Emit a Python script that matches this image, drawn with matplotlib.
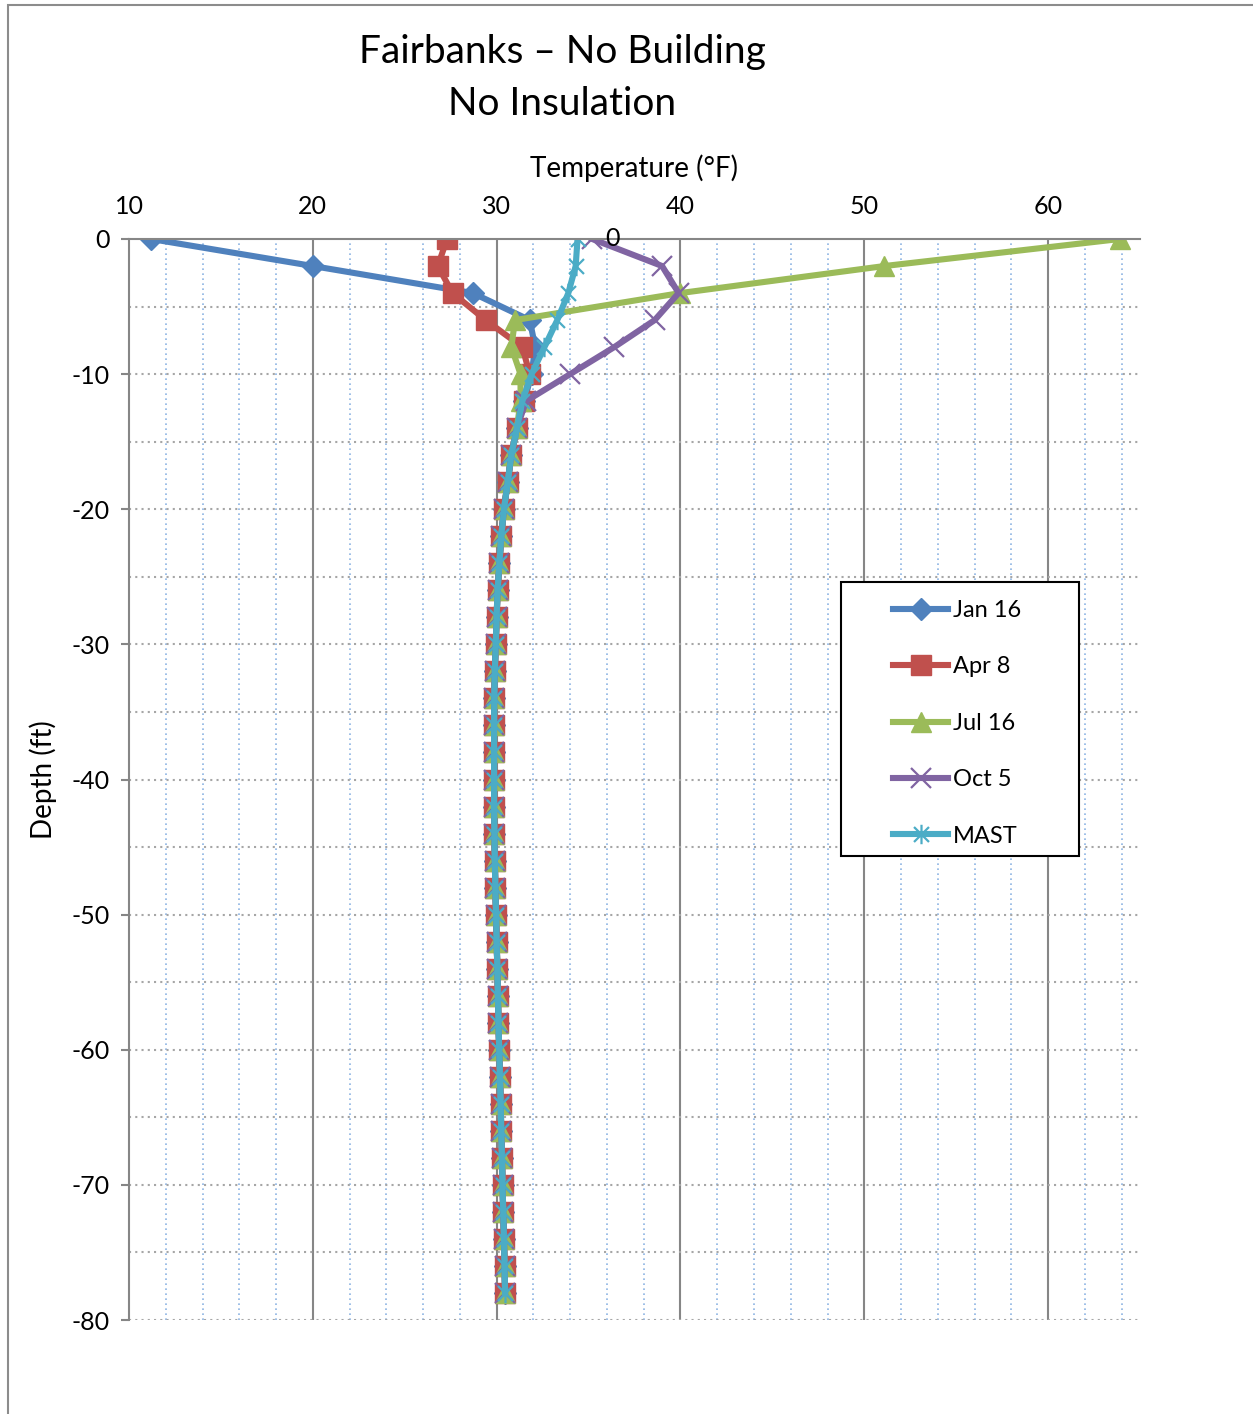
import numpy as np
import matplotlib
matplotlib.use("Agg")
import matplotlib.pyplot as plt
from matplotlib.path import Path
from matplotlib.patches import Rectangle

plt.rcParams['font.family'] = ['Lato', 'DejaVu Sans']
plt.rcParams['axes.unicode_minus'] = False

# depth points (ft), every 2 ft from 0 down to -78
depth = list(range(0, -80, -2))

# shallow part (0 to -12 ft) read per series
jan_top = [11.2, 20.0, 28.7, 31.8, 32.1, 31.9, 31.5]
apr_top = [27.3, 26.8, 27.6, 29.4, 31.4, 31.8, 31.5]
jul_top = [63.9, 51.1, 40.0, 31.0, 30.8, 31.3, 31.3]
oct_top = [35.2, 39.0, 39.9, 38.6, 36.4, 34.0, 31.6]
mast_top = [34.4, 34.3, 33.9, 33.3, 32.6, 31.9, 31.4]

# deep part (-14 to -78 ft), all curves overlap here
deep = [31.1, 30.8, 30.6, 30.4, 30.25, 30.15, 30.05, 30.0, 29.95, 29.9,
        29.87, 29.86, 29.86, 29.86, 29.86, 29.88, 29.9, 29.93, 29.97, 30.0,
        30.04, 30.07, 30.1, 30.14, 30.18, 30.22, 30.25, 30.29, 30.32, 30.36,
        30.4, 30.43, 30.46]

labels = ['Jan 16', 'Apr 8', 'Jul 16', 'Oct 5', 'MAST']
colors = ['#4F81BD', '#C0504D', '#9BBB59', '#8064A2', '#4BACC6']
series = [jan_top + deep, apr_top + deep, jul_top + deep, oct_top + deep, mast_top + deep]

# excel style asterisk: x plus vertical bar
star = Path([(-1, -1), (1, 1), (-1, 1), (1, -1), (0, -1.3), (0, 1.3)],
            [Path.MOVETO, Path.LINETO, Path.MOVETO, Path.LINETO, Path.MOVETO, Path.LINETO])
marker_specs = [
    dict(marker='D', markersize=11),
    dict(marker='s', markersize=14),
    dict(marker='^', markersize=15),
    dict(marker='x', markersize=14, markeredgewidth=1.6),
    dict(marker=star, markersize=14, markeredgewidth=1.6),
]

fig = plt.figure(figsize=(12.53, 14.14), dpi=100)
ax = fig.add_axes([129 / 1253, 1 - 1320 / 1414, (1140 - 129) / 1253, (1320 - 239) / 1414])

for vals, lab, col, mk in zip(series, labels, colors, marker_specs):
    ax.plot(vals, depth, color=col, linewidth=4.4, label=lab,
            markerfacecolor=col, markeredgecolor=col, **mk)

ax.set_xlim(10, 65)
ax.set_ylim(-80, 0)

# gridlines
for t in np.arange(12, 65, 2):
    if t % 10 == 0:
        ax.axvline(t, color='#868686', linewidth=1.5, zorder=0)
    else:
        ax.axvline(t, color='#8EB4E3', linewidth=1.2, linestyle=(0, (1, 2)), zorder=0)
for d in np.arange(-5, -81, -5):
    ax.axhline(d, color='#A6A6A6', linewidth=1.5, linestyle=(0, (1, 2)), zorder=0)

ax.xaxis.tick_top()
ax.xaxis.set_label_position('top')
ax.set_xticks(range(10, 61, 10))
ax.set_yticks(range(-80, 1, 10))
ax.tick_params(axis='x', length=0, labelsize=18, pad=15)
ax.tick_params(axis='y', length=6, width=1.5, color='#868686', labelsize=18, pad=8, direction='out')
ax.spines['bottom'].set_visible(False)
ax.spines['right'].set_visible(False)
ax.spines['top'].set_color('#868686')
ax.spines['left'].set_color('#868686')
ax.spines['top'].set_linewidth(1.5)
ax.spines['left'].set_linewidth(1.5)

ax.set_xlabel('Temperature (°F)', fontsize=20, labelpad=13)
ax.set_ylabel('Depth (ft)', fontsize=20, labelpad=10)

# stray label from the original sheet
ax.text(36.3, 0, '0', fontsize=18, ha='center', va='center')

fig.text(562 / 1253, 1 - 52 / 1414, 'Fairbanks – No Building', fontsize=28, ha='center', va='center')
fig.text(562 / 1253, 1 - 104 / 1414, 'No Insulation', fontsize=28, ha='center', va='center')

# legend box drawn separately so the inner padding matches
ax.add_patch(Rectangle((841 / 1253, 1 - 856 / 1414), (1079 - 841) / 1253, (856 - 582) / 1414,
                       transform=fig.transFigure, facecolor='white', clip_on=False,
                       edgecolor='black', linewidth=1.5, zorder=5))
leg = ax.legend(loc='upper left', bbox_to_anchor=(893 / 1253, 1 - 600 / 1414),
                bbox_transform=fig.transFigure, fontsize=17, frameon=False,
                labelspacing=1.5, handlelength=2.35, handletextpad=0.2,
                borderpad=0, borderaxespad=0)
leg.set_zorder(6)

# outer chart frame (left and top edges)
fig.patches.append(Rectangle((8 / 1253, -0.01), 1.0, 1 - 5 / 1414 + 0.01,
                             transform=fig.transFigure, fill=False,
                             edgecolor='#8C8C8C', linewidth=1.5))

fig.savefig('out.png', dpi=100)
